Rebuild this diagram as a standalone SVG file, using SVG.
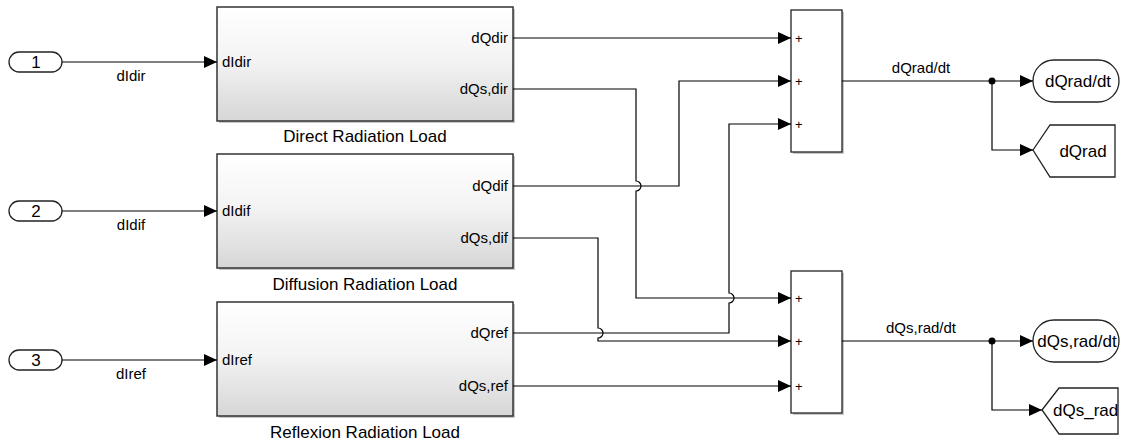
<svg xmlns="http://www.w3.org/2000/svg" width="1124" height="443" viewBox="0 0 1124 443">
<defs>
<linearGradient id="g" x1="0" y1="0" x2="0" y2="1">
<stop offset="0" stop-color="#ffffff"/>
<stop offset="0.45" stop-color="#f4f4f4"/>
<stop offset="1" stop-color="#d6d6d6"/>
</linearGradient>
<marker id="arr" markerUnits="userSpaceOnUse" markerWidth="13" markerHeight="12" refX="13" refY="6" orient="auto">
<path d="M0,0 L13,6 L0,12 z" fill="#000"/>
</marker>
</defs>
<style>
text{font-family:"Liberation Sans",Arial,sans-serif;fill:#000}
.lbl{font-size:15px}
.port{font-size:15px}
.title{font-size:17px;text-anchor:middle}
.big{font-size:17px;text-anchor:middle}
.plus{font-size:13px}
.blk{fill:url(#g);stroke:#333;stroke-width:1.5}
.shd{fill:#000;opacity:0.22}
.wht{fill:#fff;stroke:#222;stroke-width:1.3}
.w{fill:none;stroke:#000;stroke-width:1.2}
</style>
<rect width="1124" height="443" fill="#fff"/>

<g id="in1">
<rect x="9" y="52" width="53" height="20" rx="10" class="wht"/>
<text x="36" y="68" class="big">1</text>
</g>
<g id="in2">
<rect x="9" y="201" width="53" height="20" rx="10" class="wht"/>
<text x="36" y="217" class="big">2</text>
</g>
<g id="in3">
<rect x="9" y="350" width="53" height="20" rx="10" class="wht"/>
<text x="36" y="366" class="big">3</text>
</g>

<g id="direct">
<rect x="219" y="9" width="296" height="114" class="shd"/>
<rect x="217" y="7" width="296" height="114" class="blk"/>
<text x="222" y="67" class="port">dIdir</text>
<text x="508" y="43" class="port" text-anchor="end">dQdir</text>
<text x="508" y="94" class="port" text-anchor="end">dQs,dir</text>
<text x="365" y="142" class="title">Direct Radiation Load</text>
</g>
<g id="diffusion">
<rect x="219" y="156" width="296" height="114" class="shd"/>
<rect x="217" y="154" width="296" height="114" class="blk"/>
<text x="222" y="216" class="port">dIdif</text>
<text x="508" y="191" class="port" text-anchor="end">dQdif</text>
<text x="508" y="243" class="port" text-anchor="end">dQs,dif</text>
<text x="365" y="290" class="title">Diffusion Radiation Load</text>
</g>
<g id="reflexion">
<rect x="219" y="304" width="296" height="114" class="shd"/>
<rect x="217" y="302" width="296" height="114" class="blk"/>
<text x="222" y="365" class="port">dIref</text>
<text x="508" y="338" class="port" text-anchor="end">dQref</text>
<text x="508" y="391" class="port" text-anchor="end">dQs,ref</text>
<text x="365" y="438" class="title">Reflexion Radiation Load</text>
</g>

<g id="sum1">
<rect x="793" y="12" width="51" height="142" class="shd"/>
<rect x="791" y="10" width="51" height="142" class="wht"/>
<text x="795" y="43" class="plus">+</text>
<text x="795" y="86" class="plus">+</text>
<text x="795" y="129" class="plus">+</text>
</g>
<g id="sum2">
<rect x="793" y="273" width="51" height="142" class="shd"/>
<rect x="791" y="271" width="51" height="142" class="wht"/>
<text x="795" y="303" class="plus">+</text>
<text x="795" y="346" class="plus">+</text>
<text x="795" y="391" class="plus">+</text>
</g>

<g id="out1">
<rect x="1033" y="60" width="86" height="42" rx="21" class="wht"/>
<text x="1078" y="87" class="big">dQrad/dt</text>
</g>
<g id="goto1">
<polygon points="1033,150 1050,125 1115,125 1115,177 1050,177" class="wht"/>
<text x="1083" y="157" class="big">dQrad</text>
</g>
<g id="out2">
<rect x="1033" y="320" width="86" height="42" rx="21" class="wht"/>
<text x="1077" y="347" class="big">dQs,rad/dt</text>
</g>
<g id="goto2">
<polygon points="1042,410 1059,388 1118,388 1118,434 1059,434" class="wht"/>
<text x="1053" y="416" style="font-size:17px">dQs_rad</text>
</g>

<g id="connectors">
<path class="w" d="M62,62 H217" marker-end="url(#arr)"/>
<path class="w" d="M62,211 H217" marker-end="url(#arr)"/>
<path class="w" d="M62,360 H217" marker-end="url(#arr)"/>
<text x="131" y="81" class="lbl" text-anchor="middle">dIdir</text>
<text x="131" y="230" class="lbl" text-anchor="middle">dIdif</text>
<text x="131" y="379" class="lbl" text-anchor="middle">dIref</text>

<path class="w" d="M513,38 H791" marker-end="url(#arr)"/>
<path class="w" d="M513,89 H636 V181 A5,5 0 0 1 636,191 V298 H791" marker-end="url(#arr)"/>
<path class="w" d="M513,186 H679 V81 H791" marker-end="url(#arr)"/>
<path class="w" d="M513,238 H598 V328 A5,5 0 0 1 598,338 V341 H791" marker-end="url(#arr)"/>
<path class="w" d="M513,333 H729 V303 A5,5 0 0 0 729,293 V124 H791" marker-end="url(#arr)"/>
<path class="w" d="M513,386 H791" marker-end="url(#arr)"/>

<path class="w" d="M842,81 H1033" marker-end="url(#arr)"/>
<path class="w" d="M992,81 V150 H1033" marker-end="url(#arr)"/>
<circle cx="992" cy="81" r="3.5" fill="#000"/>
<text x="921" y="73" class="lbl" text-anchor="middle">dQrad/dt</text>

<path class="w" d="M842,341 H1033" marker-end="url(#arr)"/>
<path class="w" d="M992,341 V410 H1042" marker-end="url(#arr)"/>
<circle cx="992" cy="341" r="3.5" fill="#000"/>
<text x="921" y="333" class="lbl" text-anchor="middle">dQs,rad/dt</text>
</g>
</svg>
